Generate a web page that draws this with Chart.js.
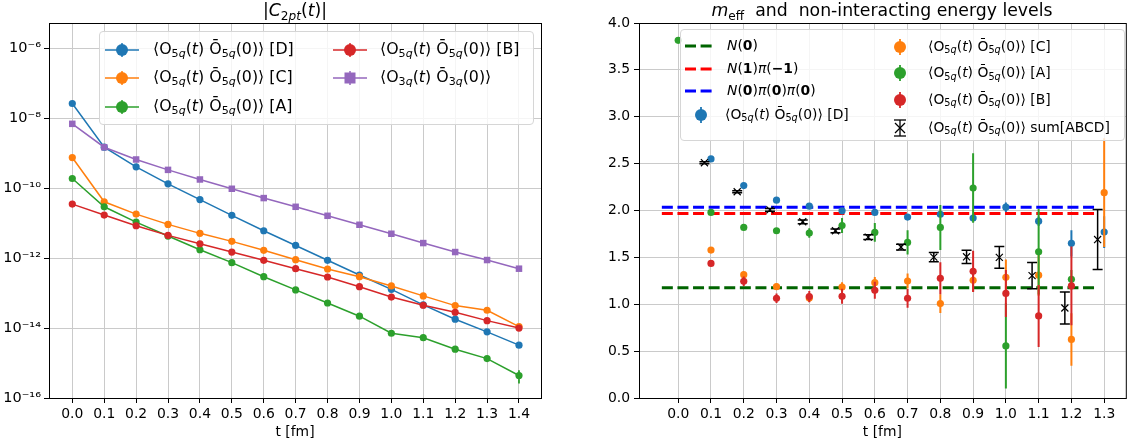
<!DOCTYPE html>
<html>
<head>
<meta charset="utf-8">
<script src="https://cdn.jsdelivr.net/npm/chart.js@4.4.1/dist/chart.umd.min.js"></script>
<style>
  html, body { margin: 0; padding: 0; background: #fff; overflow: hidden; }
  body { width: 1131px; height: 447px; position: relative; font-family: "DejaVu Sans", sans-serif; color: #000; }
  canvas { position: absolute; top: 0; }
  .title { position: absolute; top: 0px; text-align: center; font-size: 17.3px; line-height: 20px; white-space: pre; }
  .sb { font-size: 70%; position: relative; top: 0.3em; }
  .legend { position: absolute; background: rgba(255,255,255,0.8); border: 1px solid #d6d6d6; border-radius: 4px; box-sizing: border-box; }
  .item { position: absolute; font-size: 13.9px; line-height: 20px; white-space: pre; }
  .big .item { font-size: 15.8px; }
  .mk { position: absolute; line-height: 0; }
</style>
</head>
<body>
<canvas id="left" width="560" height="447" style="left:0"></canvas>
<canvas id="right" width="562" height="447" style="left:570px"></canvas>
<div class="title" style="left:49px;width:492px">|<i>C</i><span class="sb">2<i>pt</i></span>(<i>t</i>)|</div>
<div class="title" style="left:632px;width:500px"><i>m</i><span class="sb">eff</span>  and  non-interacting energy levels</div>

<script>
const FONT = "DejaVu Sans";

// ---- left panel: |C_2pt(t)| ----
const T_LEFT = [0.0, 0.1, 0.2, 0.3, 0.4, 0.5, 0.6, 0.7, 0.8, 0.9, 1.0, 1.1, 1.2, 1.3, 1.4];
const C2_D = [2.63e-8, 1.48e-9, 4.07e-10, 1.33e-10, 4.7e-11, 1.67e-11, 6.05e-12, 2.3e-12, 8.65e-13, 3.29e-13, 1.28e-13, 4.58e-14, 1.79e-14, 7.8e-15, 3.24e-15];
const C2_C = [7.5e-10, 4.07e-11, 1.81e-11, 9.2e-12, 5.1e-12, 3.01e-12, 1.67e-12, 9.0e-13, 4.88e-13, 2.94e-13, 1.6e-13, 8.3e-14, 4.38e-14, 3.23e-14, 1.1e-14];
const C2_A = [1.89e-10, 2.93e-11, 1.07e-11, 4.27e-12, 1.73e-12, 7.4e-13, 2.94e-13, 1.23e-13, 5.2e-14, 2.18e-14, 7.1e-15, 5.3e-15, 2.49e-15, 1.34e-15, 4.4e-16];
const C2_A_ERR = [0, 0, 0, 0, 0, 0, 0, 0, 0, 0, 0, 0, 0, 2e-16, 1.8e-16];
const C2_B = [3.5e-11, 1.7e-11, 8.4e-12, 4.47e-12, 2.57e-12, 1.49e-12, 8.65e-13, 4.98e-13, 2.88e-13, 1.52e-13, 7.7e-14, 4.49e-14, 2.83e-14, 1.63e-14, 1.0e-14];
const C2_3Q = [6.9e-9, 1.48e-9, 6.6e-10, 3.33e-10, 1.77e-10, 9.6e-11, 5.2e-11, 2.93e-11, 1.62e-11, 8.97e-12, 4.97e-12, 2.69e-12, 1.49e-12, 8.8e-13, 4.98e-13];
const LOG_TICKS = [1e-16, 1e-14, 1e-12, 1e-10, 1e-8, 1e-6];

// ---- right panel: m_eff ----
const T_RIGHT = [0.0, 0.1, 0.2, 0.3, 0.4, 0.5, 0.6, 0.7, 0.8, 0.9, 1.0, 1.1, 1.2, 1.3];
const M_D = [null, 2.55, 2.266, 2.11, 2.046, 1.997, 1.98, 1.93, 1.96, 1.92, 2.035, 1.886, 1.65, 1.77];
const M_D_ERR = [0, 0.01, 0.01, 0.01, 0.01, 0.01, 0.02, 0.02, 0.03, 0.03, 0.05, 0.05, 0.14, 0.17];
const M_C = [null, 1.578, 1.316, 1.188, 1.067, 1.184, 1.23, 1.248, 1.007, 1.255, 1.287, 1.31, 0.625, 2.19];
const M_C_ERR = [0, 0.02, 0.03, 0.03, 0.04, 0.05, 0.06, 0.08, 0.1, 0.12, 0.19, 0.22, 0.28, 0.58];
const M_A = [3.815, 1.98, 1.82, 1.784, 1.76, 1.84, 1.766, 1.66, 1.82, 2.24, 0.556, 1.56, 1.266, null];
const M_A_ERR = [0.01, 0.02, 0.02, 0.03, 0.05, 0.08, 0.1, 0.13, 0.24, 0.37, 0.455, 0.455, 0.1, 0];
const M_B = [null, 1.436, 1.245, 1.064, 1.082, 1.085, 1.149, 1.064, 1.277, 1.351, 1.115, 0.875, 1.195, null];
const M_B_ERR = [0, 0.03, 0.05, 0.05, 0.06, 0.08, 0.09, 0.1, 0.17, 0.22, 0.25, 0.33, 0.42, 0];
const T_SUM = [0.08, 0.18, 0.28, 0.38, 0.48, 0.58, 0.68, 0.78, 0.88, 0.98, 1.08, 1.18, 1.28];
const M_SUM = [2.51, 2.20, 2.007, 1.88, 1.784, 1.716, 1.61, 1.503, 1.506, 1.50, 1.305, 0.96, 1.69];
const M_SUM_ERR = [0.01, 0.01, 0.015, 0.02, 0.02, 0.025, 0.03, 0.05, 0.07, 0.115, 0.14, 0.17, 0.32];
// non-interacting levels, drawn over this t range
const LEVEL_T = [-0.05, 1.283];
const E_N0 = 1.177;
const E_N1PI = 1.968;
const E_N0PIPI = 2.035;
const TICKS_RIGHT_X = [0.0, 0.1, 0.2, 0.3, 0.4, 0.5, 0.6, 0.7, 0.8, 0.9, 1.0, 1.1, 1.2, 1.3];

const BLUE = "#1f77b4", ORANGE = "#ff7f0e", GREEN = "#2ca02c", RED = "#d62728", PURPLE = "#9467bd";

function pts(ts, vals, errs) {
  return ts.map((t, i) => ({ x: t, y: vals[i], e: errs ? errs[i] : 0 })).filter(p => p.y !== null);
}

const SUP = { "-": "\u207b", "0": "\u2070", "1": "\u00b9", "2": "\u00b2", "3": "\u00b3", "4": "\u2074",
              "5": "\u2075", "6": "\u2076", "7": "\u2077", "8": "\u2078", "9": "\u2079" };
function powLabel(v) {
  const ex = String(Math.round(Math.log10(v)));
  return "10" + ex.split("").map(c => SUP[c]).join("");
}

// vertical error bars, drawn just under each dataset's points
const errorBars = {
  id: "errorBars",
  beforeDatasetDraw(chart, args) {
    const ds = chart.data.datasets[args.index];
    if (!ds.errBars) return;
    const ctx = chart.ctx, a = chart.chartArea, ys = chart.scales.y;
    ctx.save();
    ctx.beginPath();
    ctx.rect(a.left, a.top, a.right - a.left, a.bottom - a.top);
    ctx.clip();
    ctx.strokeStyle = ds.errColor || ds.borderColor;
    ctx.lineWidth = ds.errWidth || 1.8;
    ds.data.forEach((p, i) => {
      if (!p.e) return;
      const x = args.meta.data[i].x;
      const y1 = ys.getPixelForValue(p.y - p.e), y2 = ys.getPixelForValue(p.y + p.e);
      ctx.beginPath();
      ctx.moveTo(x, y1); ctx.lineTo(x, y2);
      if (ds.capSize) {
        ctx.moveTo(x - ds.capSize, y1); ctx.lineTo(x + ds.capSize, y1);
        ctx.moveTo(x - ds.capSize, y2); ctx.lineTo(x + ds.capSize, y2);
      }
      ctx.stroke();
    });
    ctx.restore();
  }
};

// matplotlib style box around the axes
const frame = {
  id: "frame",
  afterDraw(chart) {
    const { ctx, chartArea: a } = chart;
    ctx.save();
    ctx.strokeStyle = "#000";
    ctx.lineWidth = 1;
    ctx.strokeRect(a.left + 0.5, a.top + 0.5, a.right - a.left, a.bottom - a.top);
    ctx.restore();
  }
};

const tickFont = { family: FONT, size: 13.9 };
const gridOpts = { color: "#cacaca", lineWidth: 1, tickColor: "#000", tickLength: 5 };

function xAxis(min, max, ticks) {
  return {
    type: "linear", min: min, max: max,
    afterBuildTicks: s => { s.ticks = ticks.map(v => ({ value: v })); },
    afterFit: s => { s.height = 49; },
    ticks: { callback: v => v.toFixed(1), font: tickFont, color: "#000", padding: 3, maxRotation: 0, autoSkip: false },
    grid: gridOpts,
    border: { display: false },
    title: { display: true, text: "t [fm]", font: tickFont, color: "#000", padding: { top: 0, bottom: 6 } }
  };
}

const common = {
  animation: false, responsive: false, maintainAspectRatio: false,
  plugins: { legend: { display: false }, tooltip: { enabled: false } }
};

function lineSet(data, color, style, radius, errs) {
  return {
    data: data, borderColor: color, backgroundColor: color, borderWidth: 1.5,
    pointStyle: style, pointRadius: radius, pointBorderWidth: 0, pointBackgroundColor: color,
    tension: 0, errBars: !!errs
  };
}

new Chart(document.getElementById("left"), {
  type: "line",
  data: {
    datasets: [
      Object.assign(lineSet(pts(T_LEFT, C2_D), BLUE, "circle", 3.6), { order: 5 }),
      Object.assign(lineSet(pts(T_LEFT, C2_C), ORANGE, "circle", 3.6), { order: 4 }),
      Object.assign(lineSet(pts(T_LEFT, C2_A, C2_A_ERR), GREEN, "circle", 3.6, true), { order: 3 }),
      Object.assign(lineSet(pts(T_LEFT, C2_B), RED, "circle", 3.6), { order: 2 }),
      Object.assign(lineSet(pts(T_LEFT, C2_3Q), PURPLE, "rect", 4.6), { order: 1 })
    ]
  },
  options: Object.assign({}, common, {
    layout: { padding: { top: 23, right: 19, bottom: 0, left: 0 } },
    scales: {
      x: xAxis(-0.073, 1.469, T_LEFT),
      y: {
        type: "logarithmic", min: 1e-16, max: 5.27e-6,
        afterBuildTicks: s => { s.ticks = LOG_TICKS.map(v => ({ value: v })); },
        afterFit: s => { s.width = 49; },
        ticks: { callback: v => powLabel(v), font: { family: FONT, size: 14.5 }, color: "#000", padding: 3 },
        grid: gridOpts,
        border: { display: false }
      }
    }
  }),
  plugins: [errorBars, frame]
});

function dotSet(data, color, order) {
  return {
    data: data, showLine: false, borderColor: color, backgroundColor: color,
    pointStyle: "circle", pointRadius: 3.6, pointBorderWidth: 0, pointBackgroundColor: color,
    errBars: true, errWidth: 2, order: order
  };
}
function levelSet(y, color, order) {
  return {
    data: LEVEL_T.map(t => ({ x: t, y: y })), borderColor: color, borderWidth: 3,
    borderDash: [11, 4.6], pointRadius: 0, order: order
  };
}

new Chart(document.getElementById("right"), {
  type: "line",
  data: {
    datasets: [
      levelSet(E_N0, "#006400", 9),
      levelSet(E_N1PI, "#ff0000", 8),
      levelSet(E_N0PIPI, "#0000ff", 7),
      dotSet(pts(T_RIGHT, M_D, M_D_ERR), BLUE, 6),
      dotSet(pts(T_RIGHT, M_C, M_C_ERR), ORANGE, 5),
      dotSet(pts(T_RIGHT, M_A, M_A_ERR), GREEN, 4),
      dotSet(pts(T_RIGHT, M_B, M_B_ERR), RED, 3),
      {
        data: pts(T_SUM, M_SUM, M_SUM_ERR), showLine: false, borderColor: "#000",
        pointStyle: "crossRot", pointRadius: 5, pointBorderWidth: 1.2, pointBorderColor: "#000",
        errBars: true, errColor: "#000", errWidth: 1.5, capSize: 5, order: 2
      }
    ]
  },
  options: Object.assign({}, common, {
    layout: { padding: { top: 23, right: 0, bottom: 0, left: 0 } },
    scales: {
      x: xAxis(-0.1197, 1.366, TICKS_RIGHT_X),
      y: {
        type: "linear", min: 0, max: 4,
        afterFit: s => { s.width = 69; },
        ticks: { stepSize: 0.5, callback: v => v.toFixed(1), font: tickFont, color: "#000", padding: 4 },
        grid: gridOpts,
        border: { display: false }
      }
    }
  }),
  plugins: [errorBars, frame]
});

// ---- legends (HTML, for the sub/superscripts) ----
const O5 = '\u27e8O<span class="sb">5<i>q</i></span>(<i>t</i>) \u014c<span class="sb">5<i>q</i></span>(0)\u27e9';
const O3 = '\u27e8O<span class="sb">3<i>q</i></span>(<i>t</i>) \u014c<span class="sb">3<i>q</i></span>(0)\u27e9';

function lineMarker(c, rect) {
  const shape = rect ? `<rect x="11.5" y="2.5" width="11" height="11" fill="${c}"/>`
                     : `<circle cx="17" cy="8" r="6" fill="${c}"/>`;
  return `<svg width="34" height="16"><line x1="0" y1="8" x2="34" y2="8" stroke="${c}" stroke-width="1.5"/>` +
         `<line x1="17" y1="1" x2="17" y2="15" stroke="${c}" stroke-width="1.5"/>${shape}</svg>`;
}
function dotMarker(c) {
  return `<svg width="14" height="16"><line x1="7" y1="0" x2="7" y2="16" stroke="${c}" stroke-width="1.8"/>` +
         `<circle cx="7" cy="8" r="6" fill="${c}"/></svg>`;
}
function dashMarker(c) {
  return `<svg width="28" height="6"><line x1="0" y1="3" x2="28" y2="3" stroke="${c}" stroke-width="3" stroke-dasharray="11 4.6"/></svg>`;
}
function sumMarker() {
  return `<svg width="16" height="18"><g stroke="#000" stroke-width="1.3" fill="none">` +
         `<line x1="8" y1="1" x2="8" y2="17"/><line x1="2" y1="1" x2="14" y2="1"/><line x1="2" y1="17" x2="14" y2="17"/>` +
         `<line x1="3" y1="4" x2="13" y2="14"/><line x1="13" y1="4" x2="3" y2="14"/></g></svg>`;
}

function addLegend(box, items, cls) {
  const el = document.createElement("div");
  el.className = "legend" + (cls ? " " + cls : "");
  Object.assign(el.style, { left: box[0] + "px", top: box[1] + "px", width: box[2] + "px", height: box[3] + "px" });
  items.forEach(it => {
    const m = document.createElement("div");
    m.className = "mk";
    m.innerHTML = it.svg;
    m.style.left = it.mx + "px";
    m.style.top = (it.cy - it.mh / 2) + "px";
    el.appendChild(m);
    const t = document.createElement("div");
    t.className = "item";
    t.innerHTML = it.html;
    t.style.left = it.tx + "px";
    t.style.top = (it.cy - 11) + "px";
    el.appendChild(t);
  });
  document.body.appendChild(el);
}

addLegend([99, 31, 435, 94], [
  { svg: lineMarker(BLUE), mh: 16, mx: 5, cy: 17.5, tx: 53, html: O5 + " [D]" },
  { svg: lineMarker(ORANGE), mh: 16, mx: 5, cy: 46, tx: 53, html: O5 + " [C]" },
  { svg: lineMarker(GREEN), mh: 16, mx: 5, cy: 74.5, tx: 53, html: O5 + " [A]" },
  { svg: lineMarker(RED), mh: 16, mx: 233, cy: 17.5, tx: 280, html: O5 + " [B]" },
  { svg: lineMarker(PURPLE, true), mh: 16, mx: 233, cy: 46, tx: 280, html: O3 }
], "big");

addLegend([680, 29, 445, 112], [
  { svg: dashMarker("#006400"), mh: 6, mx: 4, cy: 16, tx: 46, html: "<i>N</i>(<b>0</b>)" },
  { svg: dashMarker("#ff0000"), mh: 6, mx: 4, cy: 38.5, tx: 46, html: "<i>N</i>(<b>1</b>)<i>\u03c0</i>(<b>\u22121</b>)" },
  { svg: dashMarker("#0000ff"), mh: 6, mx: 4, cy: 60.5, tx: 46, html: "<i>N</i>(<b>0</b>)<i>\u03c0</i>(<b>0</b>)<i>\u03c0</i>(<b>0</b>)" },
  { svg: dotMarker(BLUE), mh: 16, mx: 13, cy: 84.5, tx: 44, html: O5 + " [D]" },
  { svg: dotMarker(ORANGE), mh: 16, mx: 212, cy: 16.5, tx: 247, html: O5 + " [C]" },
  { svg: dotMarker(GREEN), mh: 16, mx: 212, cy: 43, tx: 247, html: O5 + " [A]" },
  { svg: dotMarker(RED), mh: 16, mx: 212, cy: 69.5, tx: 247, html: O5 + " [B]" },
  { svg: sumMarker(), mh: 18, mx: 211, cy: 97.5, tx: 247, html: O5 + " sum[ABCD]" }
]);
</script>
</body>
</html>
